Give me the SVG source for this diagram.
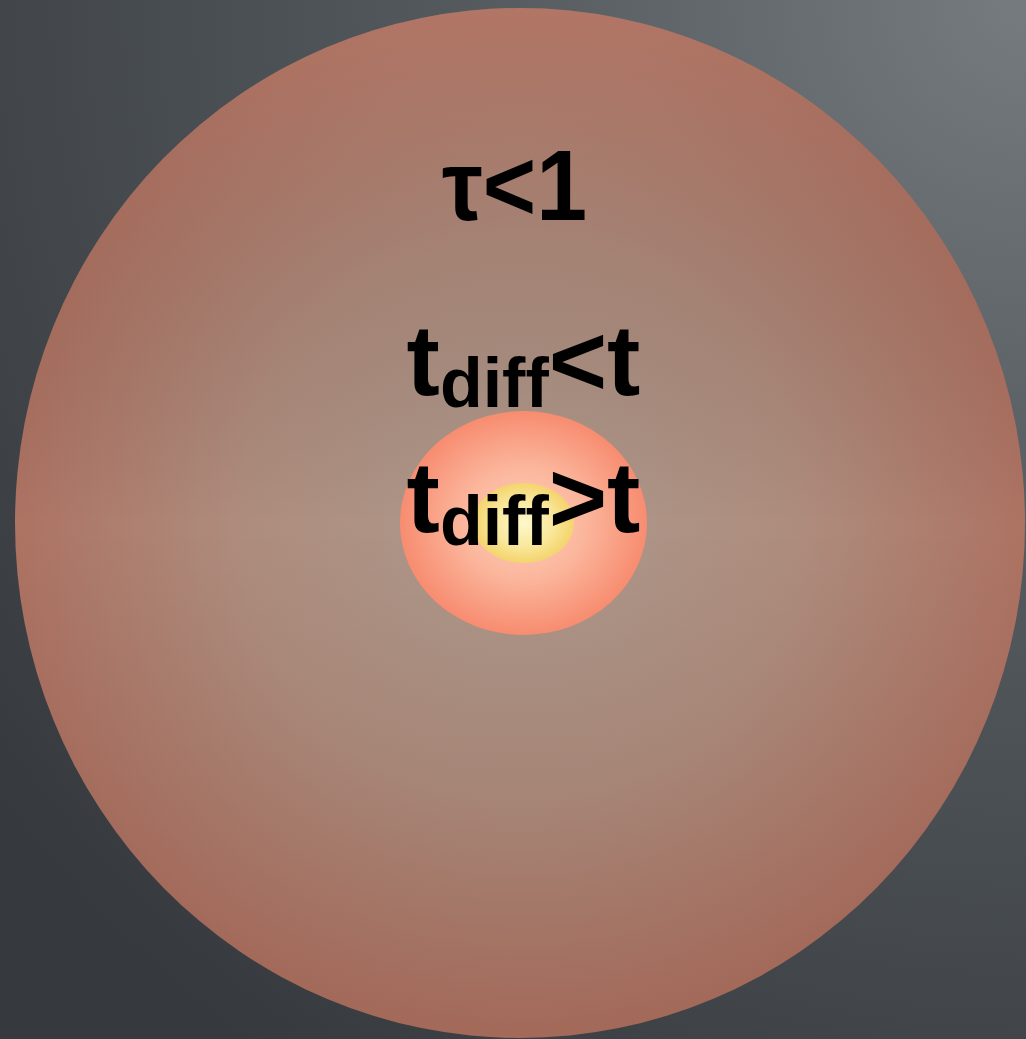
<svg xmlns="http://www.w3.org/2000/svg" width="1026" height="1039" viewBox="0 0 1026 1039">
<defs>
<radialGradient id="bg" cx="1026" cy="0" r="1300" gradientUnits="userSpaceOnUse">
<stop offset="0" stop-color="#767b80"/>
<stop offset="0.45" stop-color="#53585d"/>
<stop offset="1" stop-color="#363a3e"/>
</radialGradient>
<radialGradient id="outer" cx="520" cy="523" r="510" gradientUnits="userSpaceOnUse">
<stop offset="0" stop-color="#ad9a8d"/>
<stop offset="0.55" stop-color="#ae8c7d"/>
<stop offset="1" stop-color="#ad7262"/>
</radialGradient>
<linearGradient id="shade" x1="0" y1="0" x2="0" y2="1">
<stop offset="0" stop-color="#c08270" stop-opacity="0.25"/>
<stop offset="0.5" stop-color="#000" stop-opacity="0"/>
<stop offset="1" stop-color="#5a2a1a" stop-opacity="0.12"/>
</linearGradient>
<radialGradient id="mid" cx="0.5" cy="0.5" r="0.5">
<stop offset="0" stop-color="#fcd0bc"/>
<stop offset="0.5" stop-color="#fbb69c"/>
<stop offset="1" stop-color="#f78c70"/>
</radialGradient>
<radialGradient id="core" cx="0.5" cy="0.5" r="0.5">
<stop offset="0" stop-color="#fdf8cc"/>
<stop offset="0.6" stop-color="#f9e79a"/>
<stop offset="1" stop-color="#f4d46c"/>
</radialGradient>
<style>
.lbl{font-family:"Liberation Sans",Arial,Helvetica,sans-serif;fill:#000;font-weight:bold;}
</style>
</defs>
<rect width="1026" height="1039" fill="url(#bg)"/>
<g id="outer-zone">
<ellipse cx="520" cy="523" rx="505" ry="515" fill="url(#outer)"/>
<ellipse cx="520" cy="523" rx="505" ry="515" fill="url(#shade)"/>
</g>
<g id="diffusion-zone">
<ellipse cx="523.5" cy="523" rx="123.5" ry="112" fill="url(#mid)"/>
</g>
<g id="core-zone">
<ellipse cx="523.5" cy="523" rx="50.5" ry="40" fill="url(#core)"/>
</g>
<g id="labels">
<text class="lbl" x="514.5" y="220" font-size="100" text-anchor="middle" textLength="145" lengthAdjust="spacingAndGlyphs">τ&lt;1</text>
<text class="lbl" x="523.5" y="395" font-size="100" text-anchor="middle">t<tspan font-size="70" dy="12">diff</tspan><tspan dy="-12">&lt;t</tspan></text>
<text class="lbl" x="523.5" y="532" font-size="100" text-anchor="middle">t<tspan font-size="70" dy="13">diff</tspan><tspan dy="-13">&gt;t</tspan></text>
</g>
</svg>
